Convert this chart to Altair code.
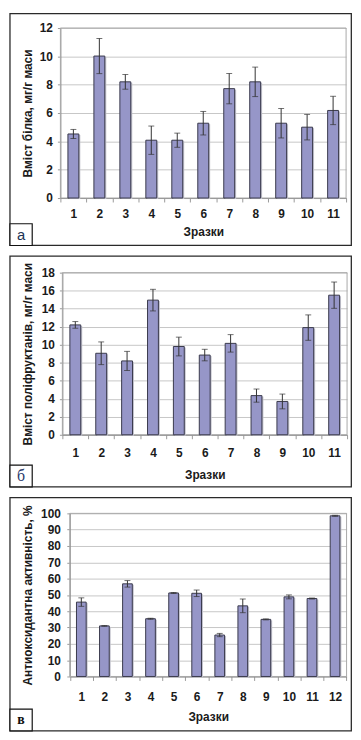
import altair as alt
import pandas as pd

# ---- data ----
samples_a = [str(i) for i in range(1, 12)]
protein = [4.52, 10.02, 8.2, 4.08, 4.08, 5.28, 7.72, 8.2, 5.28, 5.0, 6.18]
protein_err = [0.32, 1.24, 0.52, 1.0, 0.5, 0.83, 1.07, 1.04, 1.04, 0.9, 1.0]

samples_b = [str(i) for i in range(1, 12)]
polyfructans = [12.2, 9.05, 8.2, 14.95, 9.8, 8.85, 10.15, 4.35, 3.7, 11.9, 15.5]
polyfructans_err = [0.37, 1.26, 1.06, 1.2, 1.04, 0.64, 0.97, 0.73, 0.82, 1.41, 1.46]

samples_c = [str(i) for i in range(1, 13)]
antioxidant = [45.6, 31.0, 56.8, 35.4, 51.2, 51.0, 25.4, 43.3, 35.0, 48.8, 47.8, 98.5]
antioxidant_err = [2.6, 0.2, 2.0, 0.3, 0.3, 2.0, 1.0, 4.2, 0.3, 1.2, 0.3, 0.3]

x_title = "Зразки"
y_titles = ["Вміст білка, мг/г маси",
            "Вміст поліфруктанів, мг/г маси",
            "Антиоксидантна активність, %"]
letters = ["а", "б", "в"]

FONT = "Liberation Sans"
BAR_FILL = "#9696c8"
BAR_STROKE = "#3a3a4c"
ERR = "#333333"


def panel(cats, vals, errs, width, x0, height, ymax, ystep, ytitle,
          ylab_pad, xlab_pad, xtitle_y, frame, letter, letter_font,
          letter_weight, letter_size, letter_color):
    df = pd.DataFrame({
        "s": cats,
        "v": vals,
        "lo": [v - e for v, e in zip(vals, errs)],
        "hi": [v + e for v, e in zip(vals, errs)],
    })
    xscale = alt.Scale(paddingInner=0, paddingOuter=0, range=[x0, width])
    xaxis = alt.Axis(labelAngle=0, tickBand="extent", grid=False,
                     tickSize=4, labelBaseline="middle",
                     labelPadding=xlab_pad, titleY=xtitle_y,
                     titleBaseline="middle")
    x = alt.X("s:N", sort=cats, title=x_title, scale=xscale, axis=xaxis)
    yscale = alt.Scale(domain=[0, ymax], nice=False)
    yaxis = alt.Axis(values=list(range(0, ymax + 1, ystep)), grid=True,
                     tickSize=3, labelPadding=ylab_pad, offset=-x0,
                     titleX=-33 - x0, titleY=height / 2,
                     titleAlign="center", titleBaseline="middle")

    def ych(field):
        return alt.Y(field, scale=yscale, title=ytitle, axis=yaxis)

    base = alt.Chart(df)
    shadow = base.mark_bar(width={"band": 0.42}, fill="#c2c2cc", xOffset=1.5,
                           yOffset=1).encode(x=x, y=ych("v:Q"))
    bars = base.mark_bar(width={"band": 0.42}, fill=BAR_FILL, stroke=BAR_STROKE,
                         strokeWidth=1).encode(x=x, y=ych("v:Q"))
    err = base.mark_rule(color=ERR, strokeWidth=1).encode(
        x=x, y=ych("lo:Q"), y2="hi:Q")
    cap_lo = base.mark_tick(color=ERR, size=6, thickness=1).encode(
        x=x, y=ych("lo:Q"))
    cap_hi = base.mark_tick(color=ERR, size=6, thickness=1).encode(
        x=x, y=ych("hi:Q"))

    deco = alt.Chart(alt.Data(values=[{"t": letter}]))
    # grey border of the plot area (top and right sides visible)
    plot_border = deco.mark_rect(fill="transparent", stroke="#a8a8a8",
                                 strokeWidth=1).encode(
        x=alt.value(x0), x2=alt.value(width), y=alt.value(0),
        y2=alt.value(height))
    fx1, fx2, fy1, fy2 = frame
    frame_mark = deco.mark_rect(fill="transparent", stroke="#2a2a2a",
                                strokeWidth=1.3).encode(
        x=alt.value(fx1), x2=alt.value(fx2), y=alt.value(fy1), y2=alt.value(fy2))
    bx1, bx2, by1, by2 = fx1, fx1 + 22.5, fy2 - 22, fy2
    box_mark = deco.mark_rect(fill="white", stroke="#111111",
                              strokeWidth=1.2).encode(
        x=alt.value(bx1), x2=alt.value(bx2), y=alt.value(by1), y2=alt.value(by2))
    letter_mark = deco.mark_text(font=letter_font, fontSize=letter_size,
                                 fontWeight=letter_weight, color=letter_color,
                                 align="center", baseline="middle").encode(
        x=alt.value((bx1 + bx2) / 2), y=alt.value((by1 + by2) / 2 + 0.5),
        text="t:N")
    return alt.layer(frame_mark, plot_border, shadow, bars, err, cap_lo, cap_hi,
                     box_mark, letter_mark).properties(width=width, height=height)


# plot origins share one x (58 px on the page); panels б and в start their
# axes further right through the x range and a y-axis offset
pa = panel(samples_a, protein, protein_err, 289, 0, 172, 12, 2, y_titles[0],
           5, 12, 34, (-51, 294.3, -14.5, 220),
           letters[0], "Liberation Sans", "normal", 15, "#223355")
pb = panel(samples_b, polyfructans, polyfructans_err, 290, 2, 164, 18, 2,
           y_titles[1], 5, 14, 40, (-51, 294.3, -16.7, 216.7),
           letters[1], "Liberation Serif", "normal", 16, "#2a3a6a")
pc = panel(samples_c, antioxidant, antioxidant_err, 289.5, 9.5, 165, 100, 10,
           y_titles[2], 6.5, 16, 41, (-51, 294.3, -16, 220),
           letters[2], "Liberation Serif", "bold", 14, "#111111")

chart = alt.vconcat(pa, pb, pc, spacing=7.5).properties(
    padding={"left": 0, "top": 0, "right": 0, "bottom": 0},
    background="white",
).configure_view(stroke="transparent").configure_axis(
    labelFont=FONT, labelFontSize=12, labelFontWeight="bold",
    labelColor="#1a1a1a", titleFont=FONT, titleFontSize=12,
    titleFontWeight="bold", titleColor="#1a1a1a", domainColor="#8a8a8a",
    tickColor="#9a9a9a", gridColor="#c6c6c6", gridWidth=1,
).configure_concat(spacing=7.5)

chart.save("out.html", embed_options={"renderer": "svg", "actions": False})
